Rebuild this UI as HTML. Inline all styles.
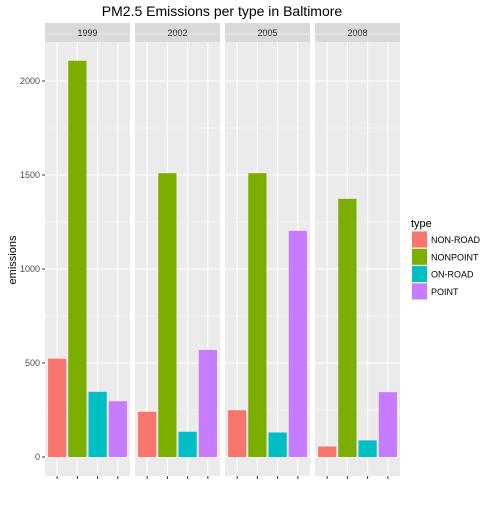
<!DOCTYPE html>
<html><head><meta charset="utf-8"><style>
body{margin:0;background:#fff}
text{font-family:"Liberation Sans",sans-serif}
</style></head><body>
<svg id="c" width="500" height="500" xmlns="http://www.w3.org/2000/svg">
<text x="222" y="16" font-size="14" text-anchor="middle" fill="#000">PM2.5 Emissions per type in Baltimore</text>
<text transform="translate(16,260) rotate(-90)" font-size="11" text-anchor="middle" fill="#000">emissions</text>
<g id="legend">
<text x="411" y="227" font-size="11" fill="#000">type</text>
</g>
</svg>
<script>
const years = ["1999","2002","2005","2008"];
const types = ["NON-ROAD","NONPOINT","ON-ROAD","POINT"];
const colors = ["#F8766D","#7CAE00","#00BFC4","#C77CFF"];
const nonRoad = [522.9, 240.8, 248.9, 55.8];
const nonPoint = [2107.6, 1509.5, 1509.5, 1373.2];
const onRoad = [346.8, 134.3, 130.4, 88.3];
const point = [296.8, 569.3, 1202.5, 345.0];
const yTicks = [0, 500, 1000, 1500, 2000];
const series = [nonRoad, nonPoint, onRoad, point];
const NS = "http://www.w3.org/2000/svg";
const svg = document.getElementById('c');
function mk(t, a, p){const e=document.createElementNS(NS,t);for(const k in a)e.setAttribute(k,a[k]);(p||svg).appendChild(e);return e;}
const pTop=42, pBot=476, stripTop=23, pW=85, gap=5, pX0=45;
function y(v){return 457 - v*(376/2000);}
function px(i){return pX0 + i*(pW+gap);}
function xc(i,j){const step=pW/4.2;return px(i)+step*(0.6+j);}
years.forEach((yr,i)=>{
  const x0=px(i);
  const g=mk('g',{});
  
  
  const st=mk('rect',{x:x0,y:stripTop,width:pW,height:pTop-stripTop,fill:'#D9D9D9'},g);
  
  
  const sl=mk('text',{x:x0+pW/2,y:36,'font-size':9,'text-anchor':'middle',fill:'#1A1A1A'},g);
  sl.textContent=yr;
  
  
  const bg=mk('rect',{x:x0,y:pTop,width:pW,height:pBot-pTop,fill:'#EBEBEB'},g);
  
  
  for(let k=0;k<yTicks.length-1;k++){const m=(yTicks[k]+yTicks[k+1])/2;
    mk('line',{x1:x0,x2:x0+pW,y1:y(m),y2:y(m),stroke:'#fff','stroke-width':0.5},g);}
  mk('line',{x1:x0,x2:x0+pW,y1:y(2250),y2:y(2250),stroke:'#fff','stroke-width':0.5},g);
  yTicks.forEach(t=>mk('line',{x1:x0,x2:x0+pW,y1:y(t),y2:y(t),stroke:'#fff','stroke-width':1.1},g));
  types.forEach((tp,j)=>{
    mk('line',{x1:xc(i,j),x2:xc(i,j),y1:pTop,y2:pBot,stroke:'#fff','stroke-width':1.1},g);
    mk('line',{x1:xc(i,j),x2:xc(i,j),y1:pBot,y2:pBot+3,stroke:'#333','stroke-width':1},g);
  });
  types.forEach((tp,j)=>{
    const v=series[j][i], bw=pW/4.2*0.9;
    const b=mk('rect',{x:xc(i,j)-bw/2,y:y(v),width:bw,height:y(0)-y(v),fill:colors[j]},g);
    
    
  });
});
yTicks.forEach(t=>{
  mk('line',{x1:42,x2:45,y1:y(t),y2:y(t),stroke:'#333','stroke-width':1});
  const l=mk('text',{x:40,y:y(t)+3,'font-size':9,'text-anchor':'end',fill:'#4D4D4D'});
  l.textContent=t;
  
  
});
const lg=document.getElementById('legend');
types.forEach((tp,j)=>{
  const yy=231+j*17.3;
  mk('rect',{x:411,y:yy,width:17,height:17,fill:'#F2F2F2'},lg);
  const k=mk('rect',{x:412,y:yy+0.5,width:15,height:16,fill:colors[j]},lg);
  
  
  const t=mk('text',{x:431,y:yy+12,'font-size':9,fill:'#000'},lg);
  t.textContent=tp;
  
  
});
</script>
</body></html>
